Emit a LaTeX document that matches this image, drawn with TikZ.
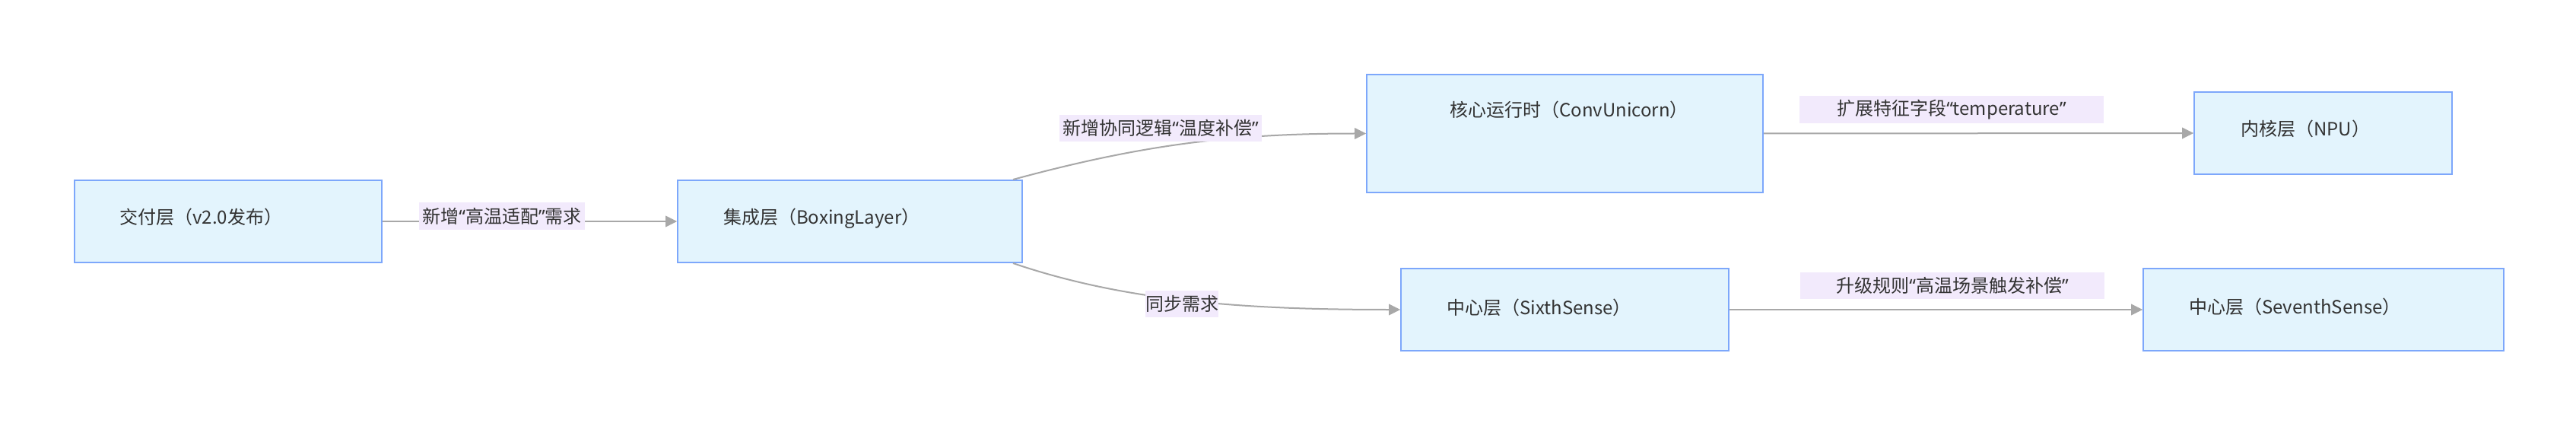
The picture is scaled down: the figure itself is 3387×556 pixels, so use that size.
\documentclass[tikz,border=0pt]{standalone}
\usepackage{fontspec}
\setmainfont{Noto Sans CJK SC}
\newfontfamily\latinq{Noto Sans}
\newcommand{\qo}{{\latinq “}}
\newcommand{\qc}{{\latinq ”}}
\usetikzlibrary{arrows.meta}
\definecolor{boxfill}{HTML}{E3F4FD}
\definecolor{boxline}{HTML}{7DA7FB}
\definecolor{lblbg}{HTML}{F2EAFC}
\definecolor{edgec}{HTML}{A8A8A8}
\definecolor{txt}{HTML}{333333}
\begin{document}
\begin{tikzpicture}[x=1pt,y=-1pt,
  layerbox/.style={draw=boxline,fill=boxfill,line width=2pt,inner sep=0pt,anchor=north west,minimum height=108pt},
  boxtext/.style={anchor=base west,inner sep=0pt,text=txt,font=\fontsize{24}{28}\selectfont},
  edge/.style={draw=edgec,line width=2pt,-{Triangle[length=15pt,width=15pt,fill=edgec,line width=0.8pt]}},
  lbl/.style={fill=lblbg,inner sep=0pt,text=txt,font=\fontsize{24}{28}\selectfont}
]
\fill[white] (0,0) rectangle (3387,556);
\useasboundingbox (0,0) rectangle (3387,556);

\node[layerbox,minimum width=404pt] (b1) at (97,236) {};
\node[layerbox,minimum width=453pt] (b2) at (890,236) {};
\node[layerbox,minimum width=521pt,minimum height=155pt] (b3) at (1796,97) {};
\node[layerbox,minimum width=431pt] (b4) at (1841,352) {};
\node[layerbox,minimum width=339pt] (b5) at (2884,120) {};
\node[layerbox,minimum width=474pt] (b6) at (2817,352) {};

\node[boxtext] (t1) at (157,294) {交付层（v2.0发布）};
\node[boxtext] (t2) at (951,294) {集成层（BoxingLayer）};
\node[boxtext] (t3) at (1906,154) {核心运行时（ConvUnicorn）};
\node[boxtext] (t4) at (1902,413) {中心层（SixthSense）};
\node[boxtext] (t5) at (2946,179) {内核层（NPU）};
\node[boxtext] (t6) at (2878,412) {中心层（SeventhSense）};

\draw[edge] (b1.east) -- (b2.west);
\draw[edge] ([xshift=-13pt]b2.north east) .. controls +(170,-46) and +(-176,0) .. (b3.west);
\draw[edge] ([xshift=-13pt]b2.south east) .. controls +(150,51) and +(-200,0) .. (b4.west);
\draw[edge] (b3.east) -- (b5.west);
\draw[edge] (b4.east) -- (b6.west);

\node[lbl,minimum width=218pt,minimum height=36pt] (l1) at (660,284) {新增\qo 高温适配\qc 需求};
\node[lbl,minimum width=266pt,minimum height=35pt] (l2) at (1526,168.5) {新增协同逻辑\qo 温度补偿\qc};
\node[lbl,minimum width=96pt,minimum height=35pt] (l3) at (1554,399.5) {同步需求};
\node[lbl,minimum width=400pt,minimum height=36pt] (l4) at (2566,144) {扩展特征字段\qo temperature\qc};
\node[lbl,minimum width=400pt,minimum height=35pt] (l5) at (2567,375.5) {升级规则\qo 高温场景触发补偿\qc};
\end{tikzpicture}
\end{document}
